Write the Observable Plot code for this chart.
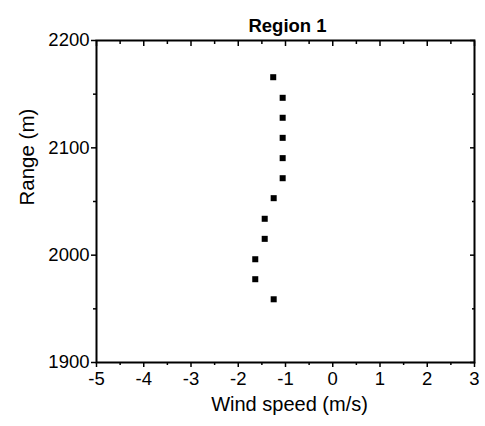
<!DOCTYPE html>
<html>
<head>
<meta charset="utf-8">
<script src="https://cdn.jsdelivr.net/npm/d3@7"></script>
<script src="https://cdn.jsdelivr.net/npm/@observablehq/plot@0.6"></script>
<style>
  html, body { margin: 0; padding: 0; background: #fff; }
  svg { display: block; }
</style>
</head>
<body>
<div id="chart"></div>
<script>
const title = "Region 1";
const xLabel = "Wind speed (m/s)";
const yLabel = "Range (m)";
const windSpeed = [-1.26, -1.06, -1.06, -1.06, -1.06, -1.06, -1.25, -1.44, -1.44, -1.64, -1.64, -1.25];
const range = [2165.8, 2146.6, 2128.0, 2109.3, 2090.4, 2071.7, 2053.1, 2033.9, 2015.2, 1996.2, 1977.6, 1958.9];
const xTicks = [-5, -4, -3, -2, -1, 0, 1, 2, 3];
const xMinorTicks = [-4.5, -3.5, -2.5, -1.5, -0.5, 0.5, 1.5, 2.5];
const yTicks = [1900, 2000, 2100, 2200];
const yMinorTicks = [1950, 2050, 2150];

const data = windSpeed.map((w, i) => ({w, r: range[i]}));
const font = "'Liberation Sans', Arial, sans-serif";
const tickOnly = {label: null, fill: "none", stroke: "#000", strokeWidth: 1.5};

const chart = Plot.plot({
  width: 485,
  height: 426,
  marginLeft: 96,
  marginRight: 11,
  marginTop: 40,
  marginBottom: 64,
  style: {fontFamily: font, background: "#fff", color: "#000"},
  x: {domain: [-5, 3]},
  y: {domain: [1900, 2200]},
  marks: [
    // bottom axis
    Plot.axisX({anchor: "bottom", ticks: xTicks, tickSize: 5, ...tickOnly}),
    Plot.axisX({anchor: "bottom", ticks: xMinorTicks, tickSize: 3, ...tickOnly}),
    Plot.axisX({anchor: "bottom", ticks: xTicks, tickSize: 0, tickPadding: 9, label: null, tickFormat: d => String(d), fontSize: 18.5, fill: "#000"}),
    // top axis (inward)
    Plot.axisX({anchor: "top", ticks: xTicks, tickSize: -5, ...tickOnly}),
    Plot.axisX({anchor: "top", ticks: xMinorTicks, tickSize: -3, ...tickOnly}),
    // left axis
    Plot.axisY({anchor: "left", ticks: yTicks, tickSize: 5, ...tickOnly}),
    Plot.axisY({anchor: "left", ticks: yMinorTicks, tickSize: 3, ...tickOnly}),
    Plot.axisY({anchor: "left", ticks: yTicks, tickSize: 0, tickPadding: 7, label: null, tickFormat: d => String(d), fontSize: 18.5, fill: "#000"}),
    // right axis (inward)
    Plot.axisY({anchor: "right", ticks: yTicks, tickSize: -5, ...tickOnly}),
    Plot.axisY({anchor: "right", ticks: yMinorTicks, tickSize: -3, ...tickOnly}),
    Plot.frame({stroke: "#000", strokeWidth: 2}),
    Plot.dot(data, {x: "w", y: "r", symbol: "square", r: 3.4, fill: "#000", stroke: "none"}),
    Plot.text([title], {frameAnchor: "top", dy: -22, dx: 2, text: d => d, fontSize: 18.5, fontWeight: "bold", fill: "#000"}),
    Plot.text([xLabel], {frameAnchor: "bottom", dy: 48, dx: 4, text: d => d, fontSize: 20, fill: "#000"}),
    Plot.text([yLabel], {frameAnchor: "left", dx: -69, dy: 4, rotate: -90, text: d => d, fontSize: 20.5, fill: "#000"})
  ]
});
document.getElementById("chart").appendChild(chart);
</script>
</body>
</html>
